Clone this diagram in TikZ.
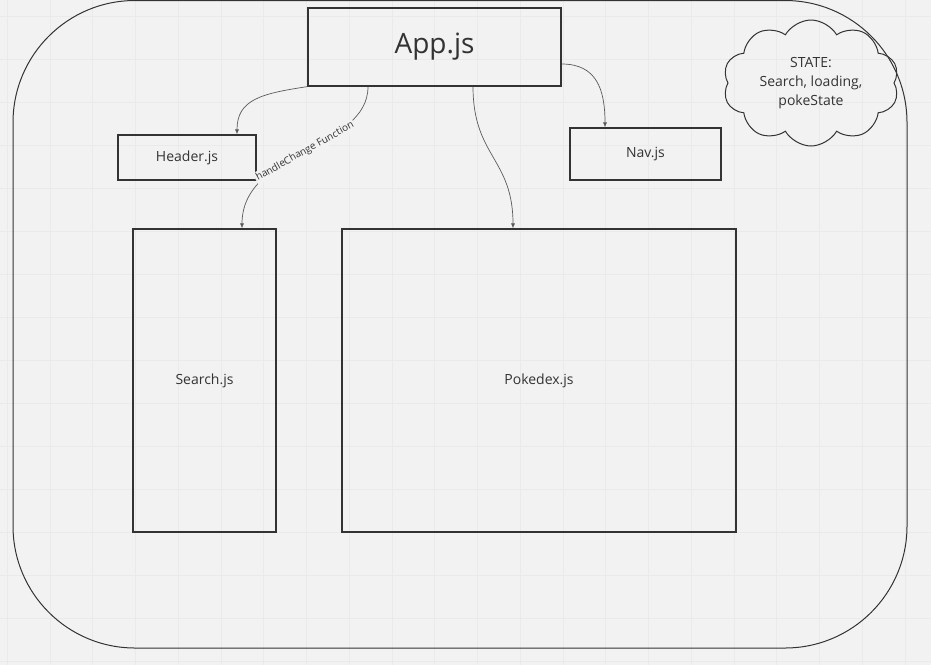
\documentclass[tikz,border=0pt]{standalone}
\usepackage{fontspec}
\setmainfont{Open Sans}
\usetikzlibrary{positioning, shapes.symbols, arrows.meta}
\definecolor{boardbg}{HTML}{F2F2F2}
\definecolor{gridline}{HTML}{EAEAEA}
\definecolor{ink}{HTML}{333333}
\definecolor{wire}{HTML}{5A5A5A}

\begin{document}
\begin{tikzpicture}[x=1pt, y=-1pt,
    comp/.style={draw=ink, line width=1.2pt, text=ink, inner sep=0pt,
      font=\fontsize{14}{17}\selectfont},
    link/.style={draw=wire, line width=0.7pt, -{Latex[length=5pt, width=4pt]}},
    fnlabel/.style={sloped, fill=boardbg, inner sep=1.5pt, text=ink,
      font=\fontsize{10}{12}\selectfont}]
    \def\BoardW{931} % szerokosc tablicy
    \def\BoardH{665}

    % tlo z siatka
    \useasboundingbox[fill=boardbg] (0,0) rectangle (\BoardW,\BoardH);
    \foreach \i in {0,...,21}
      \draw[gridline, line width=0.5pt] ({7+42.75*\i},0) -- ({7+42.75*\i},\BoardH);
    \foreach \j in {0,...,15}
      \draw[gridline, line width=0.5pt] (0,{16+43*\j}) -- (\BoardW,{16+43*\j});

    % ramka calej aplikacji
    \draw[ink, line width=1pt, rounded corners=122pt] (13,0.5) rectangle (907,648);

    % komponenty
    \node[comp, minimum width=253pt, minimum height=78pt,
      font=\fontsize{28}{32}\selectfont] (app) at (434.5,47) {App.js};
    \node[comp, minimum width=138pt, minimum height=45pt] (header) at (187,157.5) {Header.js};
    \node[comp, minimum width=151pt, minimum height=52pt] (nav) at (645.5,154) {Nav.js};
    \node[comp, minimum width=143pt, minimum height=303pt] (search) at (204.5,380.5) {Search.js};
    \node[comp, minimum width=394pt, minimum height=303pt] (pokedex) at (539,380.5) {Pokedex.js};

    % stan
    \node[comp, cloud, cloud puffs=10, cloud puff arc=120, cloud ignores aspect,
      line width=1pt, minimum width=176pt, minimum height=126pt, align=center,
      font=\fontsize{14}{19}\selectfont] (state) at (811,83)
      {STATE:\\Search, loading,\\pokeState};

    % polaczenia
    \draw[link] (app.south west) .. controls +(-46,7) and +(0,-35) .. ([xshift=50pt]header.north);
    \draw[link] ([xshift=-66.5pt]app.south) .. controls +(0,63) and +(0,-79) .. ([xshift=37.5pt]search.north)
      node[fnlabel, midway] {handleChange Function};
    \draw[link] ([xshift=38.5pt]app.south) .. controls +(0,70) and +(0,-70) .. ([xshift=-26pt]pokedex.north);
    \draw[link] ([yshift=-17pt]app.east) .. controls +(35,0) and +(0,-38) .. ([xshift=-40.5pt]nav.north);
\end{tikzpicture}
\end{document}
